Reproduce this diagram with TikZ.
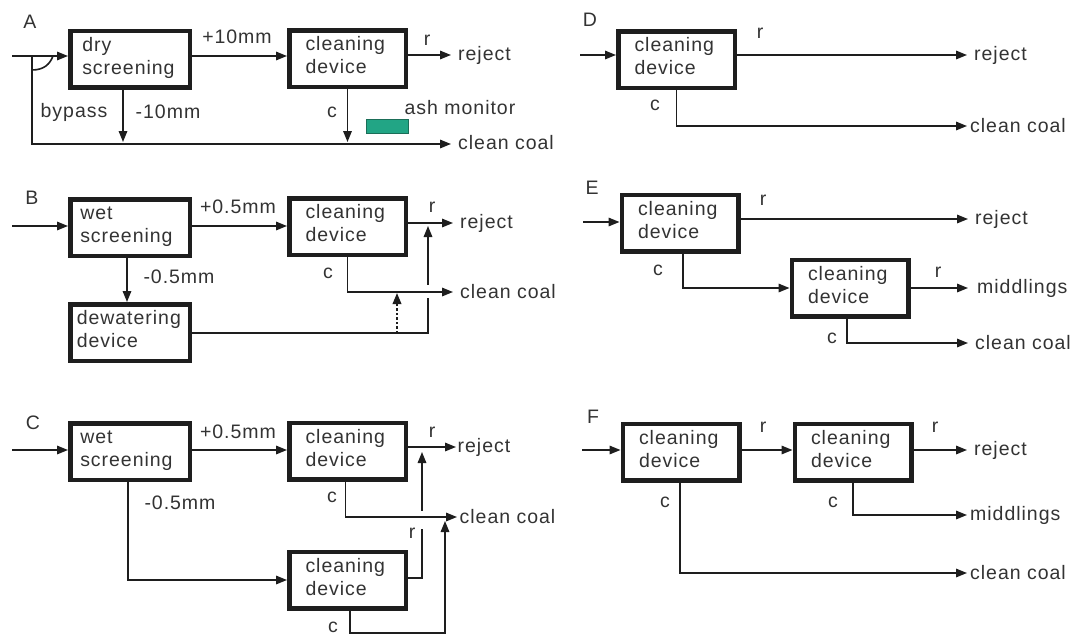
\documentclass[tikz,border=0pt]{standalone}
\usepackage{fontspec}
\setmainfont[LetterSpace=5]{Liberation Sans}
\usetikzlibrary{arrows.meta}
\definecolor{ink}{HTML}{1E1E1E}
\definecolor{txt}{HTML}{333333}
\definecolor{monfill}{HTML}{22A585}
\definecolor{mondraw}{HTML}{1B6E58}
\begin{document}
\begin{tikzpicture}[x=1pt,y=-1pt,
  font=\fontsize{19.5}{23}\selectfont,
  box/.style={draw=ink, line width=4.5pt, fill=white, align=left, inner ysep=0pt, text=txt, minimum height=56.5pt, text height=14pt, text depth=30pt},
  cbox/.style={box, text width=84pt, inner xsep=16.25pt},
  sbox/.style={box, text width=95.5pt, inner xsep=12pt},
  wbox/.style={box, text width=99.5pt, inner xsep=10pt},
  dbox/.style={box, text width=106.5pt, inner xsep=6.5pt},
  conn/.style={draw=ink, line width=1.6pt},
  arr/.style={conn, -{Triangle[length=11pt,width=8.5pt]}},
  dotarr/.style={arr, line width=2pt, dash pattern=on 2.5pt off 2pt},
  lbl/.style={text=txt, inner sep=0pt},
  olbl/.style={lbl, anchor=west, inner xsep=7pt},
  gap/.style={draw=white, line width=4pt}
]
\useasboundingbox[fill=white] (0,0) rectangle (1079,637);

% ---------------- Panel A ----------------
\node[lbl] (LA) at (30,22) {A};
\node[sbox] (A1) at (130,59) {dry\\screening};
\node[cbox] (A2) at (347.5,58.5) {cleaning\\device};
\coordinate (Ain) at (12,56);
\coordinate (Aj) at (32,56);
\coordinate (Ab) at (32,144);
\node[olbl] (Arej) at (451,55) {reject};
\node[olbl] (Acc) at (451,143) {clean coal};
\draw[arr] (Ain) -- (Ain -| A1.west);
\draw[arr] (Aj) -- (Ab) -- (Acc.west |- Ab);
\draw[conn] (32,70) .. controls (44,70) and (50,64) .. (53,56);
\draw[arr] (A1.east |- Ain) -- (A2.west |- Ain);
\node[lbl] (Ap) at (237,37) {+10mm};
\draw[arr] (A2.east |- Arej) -- (Arej.west);
\node[lbl] (Ar) at (427,40) {r};
\draw[arr, shorten >=2pt] (A2.south) -- (A2.south |- Ab);
\draw[arr, shorten >=2pt] ([xshift=-7pt]A1.south) -- ([xshift=-7pt]A1.south |- Ab);
\node[lbl] (Abp) at (74,112) {bypass};
\node[lbl] (Am) at (168,112) {-10mm};
\node[lbl] (Ac) at (332,112) {c};
\node[draw=mondraw, fill=monfill, line width=0.8pt, minimum width=42pt, minimum height=14pt, inner sep=0pt] (Amon) at (387.5,126.5) {};
\node[lbl] (Aml) at (460,108) {ash monitor};

% ---------------- Panel B ----------------
\node[lbl] (LB) at (32,198) {B};
\node[wbox] (B1) at (130,227.5) {wet\\screening};
\node[cbox] (B2) at (347.5,226.5) {cleaning\\device};
\node[dbox] (B3) at (130,332.5) {dewatering\\device};
\coordinate (Bin) at (12,226);
\node[olbl] (Brej) at (453,223) {reject};
\node[olbl] (Bcc) at (453,292) {clean coal};
\coordinate (Bf) at (428,333);
\coordinate (Bd) at (397,333);
\draw[arr] (Bin) -- (Bin -| B1.west);
\draw[arr] (B1.east |- Bin) -- (B2.west |- Bin);
\node[lbl] (Bp) at (238,207) {+0.5mm};
\draw[arr] ([xshift=-3pt]B1.south) -- ([xshift=-3pt]B3.north);
\node[lbl] (Bm) at (179,277) {-0.5mm};
\draw[arr] (B2.east |- Brej) -- (Brej.west);
\node[lbl] (Br) at (432,207) {r};
\draw[arr, shorten >=3pt] (B3.east |- Bf) -- (Bf) -- (Bf |- Brej);
\coordinate (Bx) at (Bf |- Bcc);
\draw[gap] ([yshift=7pt]Bx) -- ([yshift=-6pt]Bx);
\draw[arr] (B2.south) -- (B2.south |- Bcc) -- (Bcc.west);
\draw[dotarr, shorten >=1pt] (Bd) -- (Bd |- Bcc);
\node[lbl] (Bc) at (328,273) {c};

% ---------------- Panel C ----------------
\node[lbl] (LC) at (33,423) {C};
\node[wbox] (C1) at (130,451.5) {wet\\screening};
\node[cbox] (C2) at (347.5,451) {cleaning\\device};
\node[cbox] (C3) at (347.5,580) {cleaning\\device};
\coordinate (Cin) at (12,450);
\draw[arr] (Cin) -- (Cin -| C1.west);
\draw[arr] (C1.east |- Cin) -- (C2.west |- Cin);
\node[lbl] (Cp) at (238,432) {+0.5mm};
\coordinate (Cm) at (128,580);
\draw[arr] (Cm |- C1.south) -- (Cm) -- (C3.west |- Cm);
\node[lbl] (Cmm) at (180,503) {-0.5mm};
\node[olbl, inner xsep=1.5pt] (Crej) at (456,447) {reject};
\node[olbl, inner xsep=2.5pt] (Ccc) at (457,517) {clean coal};
\draw[arr] (C2.east |- Crej) -- (Crej.west);
\coordinate (Cr) at (422,578);
\draw[arr, shorten >=5pt] (C3.east |- Cr) -- (Cr) -- (Cr |- Crej);
\coordinate (Cx) at (Cr |- Ccc);
\draw[gap] ([yshift=6pt]Cx) -- ([yshift=-12pt]Cx);
\draw[arr] ([xshift=-2pt]C2.south) -- ([xshift=-2pt]C2.south |- Ccc) -- (Ccc.west);
\coordinate (Cb) at (445,633);
\draw[arr, shorten >=4pt] ([xshift=2.5pt]C3.south) -- ([xshift=2.5pt]C3.south |- Cb) -- (Cb) -- (Cb |- Ccc);
\node[lbl] (Cr1) at (432,432) {r};
\node[lbl] (Cc1) at (332,497) {c};
\node[lbl] (Cr2) at (412,533) {r};
\node[lbl] (Cc2) at (333,627) {c};

% ---------------- Panel D ----------------
\node[lbl] (LD) at (590,20) {D};
\node[cbox] (D1) at (676.5,59.5) {cleaning\\device};
\coordinate (Din) at (580,55);
\node[olbl] (Drej) at (967,55) {reject};
\node[olbl, inner xsep=3pt] (Dcc) at (967,126) {clean coal};
\draw[arr] (Din) -- (Din -| D1.west);
\draw[arr] (D1.east |- Drej) -- (Drej.west);
\draw[arr] (D1.south) -- (D1.south |- Dcc) -- (Dcc.west);
\node[lbl] (Dr) at (760,33) {r};
\node[lbl] (Dc) at (655,105) {c};

% ---------------- Panel E ----------------
\node[lbl] (LE) at (592,188) {E};
\node[cbox] (E1) at (680,223) {cleaning\\device};
\node[cbox] (E2) at (850,288) {cleaning\\device};
\coordinate (Ein) at (583,222);
\node[olbl] (Erej) at (968,219) {reject};
\node[olbl, inner xsep=9pt] (Emid) at (968,288) {middlings};
\node[olbl] (Ecc) at (968,343) {clean coal};
\draw[arr] (Ein) -- (Ein -| E1.west);
\draw[arr] (E1.east |- Erej) -- (Erej.west);
\draw[arr] ([xshift=3pt]E1.south) -- ([xshift=3pt]E1.south |- E2.west) -- (E2.west);
\draw[arr] (E2.east) -- (Emid.west);
\draw[arr] ([xshift=-3pt]E2.south) -- ([xshift=-3pt]E2.south |- Ecc) -- (Ecc.west);
\node[lbl] (Er1) at (763,200) {r};
\node[lbl] (Ec1) at (658,270) {c};
\node[lbl] (Er2) at (938,272) {r};
\node[lbl] (Ec2) at (832,338) {c};

% ---------------- Panel F ----------------
\node[lbl] (LF) at (593,417) {F};
\node[cbox] (F1) at (681,452) {cleaning\\device};
\node[cbox] (F2) at (853,452) {cleaning\\device};
\coordinate (Fin) at (582,450);
\node[olbl] (Frej) at (967,450) {reject};
\node[olbl, inner xsep=3pt] (Fmid) at (967,515) {middlings};
\node[olbl, inner xsep=3pt] (Fcc) at (967,573) {clean coal};
\draw[arr] (Fin) -- (Fin -| F1.west);
\draw[arr] (F1.east |- Fin) -- (F2.west |- Fin);
\draw[arr] (F2.east |- Frej) -- (Frej.west);
\draw[arr] (F2.south) -- (F2.south |- Fmid) -- (Fmid.west);
\draw[arr] ([xshift=-1pt]F1.south) -- ([xshift=-1pt]F1.south |- Fcc) -- (Fcc.west);
\node[lbl] (Fr1) at (763,427) {r};
\node[lbl] (Fr2) at (935,427) {r};
\node[lbl] (Fc2) at (833,502) {c};
\node[lbl] (Fc1) at (665,502) {c};
\end{tikzpicture}
\end{document}
